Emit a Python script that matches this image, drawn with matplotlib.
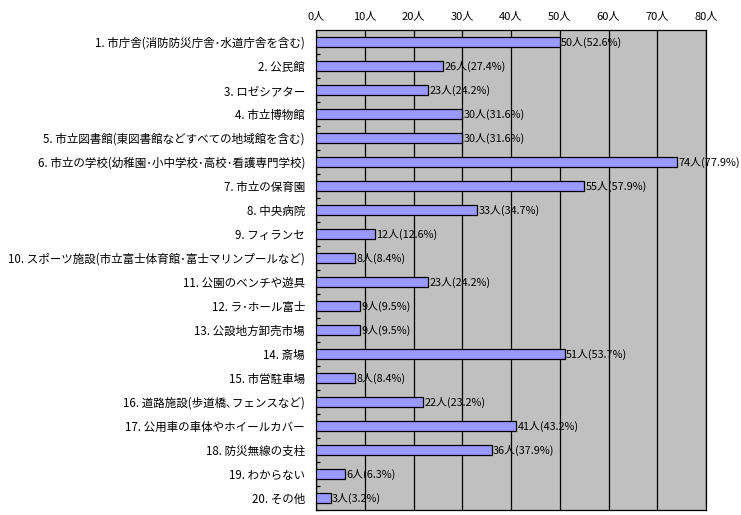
import matplotlib
matplotlib.use("Agg")
import matplotlib.pyplot as plt
import numpy as np

plt.rcParams["font.family"] = ["Noto Sans CJK JP", "DejaVu Sans"]

categories = [
    "1. 市庁舎(消防防災庁舎･水道庁舎を含む)",
    "2. 公民館",
    "3. ロゼシアター",
    "4. 市立博物館",
    "5. 市立図書館(東図書館などすべての地域館を含む)",
    "6. 市立の学校(幼稚園･小中学校･高校･看護専門学校)",
    "7. 市立の保育園",
    "8. 中央病院",
    "9. フィランセ",
    "10. スポーツ施設(市立富士体育館･富士マリンプールなど)",
    "11. 公園のベンチや遊具",
    "12. ラ･ホール富士",
    "13. 公設地方卸売市場",
    "14. 斎場",
    "15. 市営駐車場",
    "16. 道路施設(歩道橋､フェンスなど)",
    "17. 公用車の車体やホイールカバー",
    "18. 防災無線の支柱",
    "19. わからない",
    "20. その他",
]
counts = [50, 26, 23, 30, 30, 74, 55, 33, 12, 8, 23, 9, 9, 51, 8, 22, 41, 36, 6, 3]
percents = [52.6, 27.4, 24.2, 31.6, 31.6, 77.9, 57.9, 34.7, 12.6, 8.4,
            24.2, 9.5, 9.5, 53.7, 8.4, 23.2, 43.2, 37.9, 6.3, 3.2]
xticks = [0, 10, 20, 30, 40, 50, 60, 70, 80]

fig = plt.figure(figsize=(7.41, 5.15), dpi=100)
ax = fig.add_axes([316 / 741, 1 - 510 / 515, 390 / 741, 480 / 515])

y = np.arange(len(categories))
ax.set_facecolor("#C0C0C0")
ax.barh(y, counts, height=0.42, color="#9999FF", edgecolor="#000000", linewidth=0.9, zorder=3)

for yi, c, p in zip(y, counts, percents):
    ax.text(c + 0.3, yi, f"{c}人({p}%)", va="center", ha="left", fontsize=7.8, zorder=4)

ax.set_xlim(0, 80)
ax.set_ylim(len(categories) - 0.5, -0.5)
ax.set_xticks(xticks)
ax.set_xticklabels([f"{v}人" for v in xticks], fontsize=8)
ax.xaxis.tick_top()
ax.tick_params(axis="x", length=0, pad=6)
ax.grid(axis="x", color="black", linewidth=0.9, zorder=1)

ax.set_yticks(y)
ax.set_yticklabels(categories, fontsize=8.3)
ax.tick_params(axis="y", length=0, pad=8)
ax.set_yticks(np.arange(len(categories)) + 0.5, minor=True)
ax.tick_params(axis="y", which="minor", length=3, direction="in", width=0.9)

for s in ax.spines.values():
    s.set_color("black")
    s.set_linewidth(0.9)

fig.savefig("out.png", dpi=100)
